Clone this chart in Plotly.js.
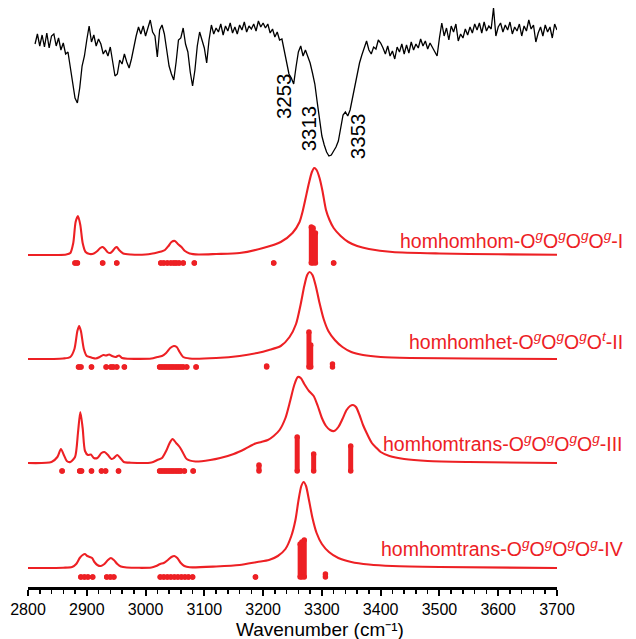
<!DOCTYPE html>
<html><head><meta charset="utf-8">
<script src="https://cdn.plot.ly/plotly-3.0.1.min.js"></script>
<style>html,body{margin:0;padding:0;background:#fff}</style>
</head><body><div id="chart" style="width:636px;height:639px"></div>
<script>
// ---------- DATA ----------
// experimental spectrum: transmittance (arb. units), sampled from 2812 cm-1 every 4 cm-1
const expStart = 2812, expStep = 4;
const expT = [
 116,126,114,125,113,127,112,124,
 126,114,122,110,117,106,108,93,78,62,
 57,72,94,104,120,134,118,125,114,121,
 116,106,110,104,113,98,84,86,100,96,
 106,98,92,101,114,124,133,126,134,124,
 132,140,128,124,103,130,135,126,110,94,
 86,80,98,120,122,132,116,108,88,74,
 90,114,128,120,112,97,120,135,126,132,
 128,136,125,134,129,137,127,133,126,135,
 130,138,128,134,131,136,129,139,133,137,
 132,136,127,131,123,128,120,121,109,100,
 86,82,76,93,108,114,104,110,103,97,
 87,76,58,38,24,15,8,4,5,9,
 13,19,31,45,48,44,50,62,76,88,
 97,105,112,119,110,106,113,111,120,117,
 112,106,114,104,109,101,113,108,116,106,
 115,107,118,110,116,112,121,114,119,111,
 117,113,109,104,122,137,124,132,120,134,
 128,136,119,126,122,131,125,133,127,136,
 130,137,127,138,129,134,131,152,124,133,
 137,128,135,130,138,126,133,129,136,124,
 134,129,140,131,135,118,127,133,124,135,
 128,133,122,136,130
];
const expPeakLabels = ['3253', '3313', '3353'];

// simulated spectra (wavenumber, intensity)
const simI_w = [2800,2850,2865,2872,2877,2881,2885,2889,2893,2898,2905,2912,2918,2923,2927,2931,2935,2940,2944,2948,2951,2955,2962,2975,3000,3012,3020,3027,3033,3039,3044,3050,3055,3061,3067,3075,3090,3120,3160,3200,3230,3250,3262,3267,3272,3278,3283,3287,3291,3296,3301,3307,3313,3320,3332,3345,3360,3380,3420,3500,3600,3700];
const simI_h = [0,0,0.5,2,12,33,39,30,12,3,1,1.5,4,7,8,6,3,2,4,7,8,5,1.5,0.5,0.5,1.5,2.5,3.5,5,9,13,14,11,8,4,1.5,0.5,1,2,7,13,22,33,43,56,72,83,87,85,77,64,45,35,27,19,13,9,6,3,1.5,0.7,0.3];

const simII_w = [2800,2860,2872,2879,2884,2887,2890,2895,2900,2905,2910,2915,2922,2928,2933,2938,2943,2949,2955,2960,2970,3010,3020,3028,3035,3042,3048,3053,3058,3064,3075,3120,3160,3190,3210,3230,3245,3256,3264,3270,3275,3279,3284,3290,3296,3303,3311,3322,3335,3350,3370,3400,3450,3550,3700];
const simII_h = [0,0.5,2,10,28,33,28,10,3,2,1,0.5,2,4,3.5,4.5,3,2,3.5,1,0.3,0.5,2,3,6,11,13,12,7,2,0.5,1,3,6,9,13,22,35,55,73,84,87,84,72,56,40,28,19,12,7,4,2,1,0.5,0];

const simIII_w = [2800,2840,2850,2856,2861,2866,2872,2880,2885,2889,2893,2897,2902,2907,2912,2918,2925,2930,2936,2942,2946,2952,2957,2963,2975,3010,3020,3028,3035,3041,3046,3052,3058,3063,3070,3085,3110,3127,3150,3169,3185,3197,3208,3218,3228,3238,3246,3253,3259,3264,3270,3278,3286,3293,3300,3307,3314,3321,3328,3335,3342,3348,3353,3358,3364,3370,3377,3385,3393,3400,3415,3440,3480,3550,3700];
const simIII_h = [0,1,6,14,8,2,1,6,30,51,35,12,8,8.5,5,5,10,11,8,4,5,8,5,1,0.3,0.5,3,5,12,20,24,20,16,11,4,1.5,3,5,9,14,19,21,23,27,33,45,62,78,86,85,79,72,67,57,45,37,33,32,36,44,53,57,58,56,48,38,29,20,15,11,7,4,2,1,0];

const simIV_w = [2800,2860,2875,2882,2888,2893,2897,2901,2905,2909,2913,2918,2924,2930,2936,2941,2946,2952,2958,2968,3010,3018,3025,3031,3038,3044,3049,3054,3060,3066,3075,3120,3160,3190,3210,3225,3238,3248,3255,3260,3265,3269,3273,3278,3284,3291,3300,3312,3328,3350,3380,3420,3500,3700];
const simIV_h = [0,0.3,1,4,10,13,14,12,11,10,6,3,2,4,8,10,8,4,1.5,0.5,0.5,2,4,5,8,11,12,10,5,2,0.7,1.5,3,6,8,12,19,32,48,67,82,86,82,68,50,35,24,16,10,6,3.5,2,1,0];

// calculated stick spectra (wavenumber, intensity)
const stickI_w = [2880,2884,2927,2951,3026,3031,3037,3043,3048,3052,3057,3064,3083,3218,3282,3285,3289,3320];
const stickI_h = [0,0,0,0,0,0,0,0,0,0,0,0,0,0,36,35,30,0];
const stickII_w = [2886,2890,2908,2933,2941,2945,2951,2964,3024,3028,3032,3036,3040,3044,3048,3052,3056,3060,3064,3070,3086,3206,3278,3281,3318];
const stickII_h = [0,0,0,0,0,0,0,0,0,0,0,0,0,0,0,0,0,0,0,0,0,1,35,22,3];
const stickIII_w = [2858,2888,2891,2908,2925,2932,2954,3024,3028,3032,3036,3040,3044,3048,3052,3056,3060,3066,3081,3193,3258,3286,3349];
const stickIII_h = [0,0,0,0,0,0,0,0,0,0,0,0,0,0,0,0,0,0,0,6,34,17,25];
const stickIV_w = [2890,2896,2902,2910,2934,2940,2946,3025,3031,3037,3043,3049,3055,3061,3067,3073,3080,3187,3263,3266,3270,3306];
const stickIV_h = [0,0,0,0,0,0,0,0,0,0,0,0,0,0,0,0,0,0,33,35,37,3];

const conformerNames = ['homhomhom', 'homhomhet', 'homhomtrans', 'homhomtrans'];
const conformerLabels = ['gggg', 'gggt', 'gggg', 'gggg'];
const conformerIds = ['I', 'II', 'III', 'IV'];
const xTitle = 'Wavenumber (cm⁻¹)';

// ---------- LAYOUT CONSTANTS ----------
const RED = '#ED2024';
const expOffset = 427;
const baseOffsets = [332, 228, 124, 19];
const stickOffsets = [324, 220, 116, 10];
const labelY = [347, 246, 144, 39];

const sims = [[simI_w, simI_h], [simII_w, simII_h], [simIII_w, simIII_h], [simIV_w, simIV_h]];
const sticks = [[stickI_w, stickI_h], [stickII_w, stickII_h], [stickIII_w, stickIII_h], [stickIV_w, stickIV_h]];

const traces = [];
traces.push({
  type: 'scatter', mode: 'lines', x0: expStart, dx: expStep,
  y: expT.map(v => v + expOffset),
  line: {color: '#000', width: 1.3}, hoverinfo: 'skip'
});
sims.forEach(([w, h], i) => {
  traces.push({
    type: 'scatter', mode: 'lines', x: w, y: h.map(v => v + baseOffsets[i]),
    line: {color: RED, width: 2.1, shape: 'spline', smoothing: 0.7}, hoverinfo: 'skip'
  });
});
sticks.forEach(([w, h], i) => {
  const xs = [], ys = [];
  w.forEach((wv, j) => { xs.push(wv, wv, null); ys.push(stickOffsets[i], stickOffsets[i] + h[j], null); });
  traces.push({
    type: 'scatter', mode: 'lines+markers', x: xs, y: ys, connectgaps: false,
    line: {color: RED, width: 5}, marker: {color: RED, size: 5.5}, hoverinfo: 'skip'
  });
});

const annotations = [];
const expLabelPos = [[3234, 491], [3277, 459], [3360, 451]];
expPeakLabels.forEach((t, i) => {
  annotations.push({x: expLabelPos[i][0], y: expLabelPos[i][1], xref: 'x', yref: 'y', text: t,
    textangle: -90, showarrow: false, font: {size: 20.5, color: '#000'}});
});
conformerNames.forEach((n, i) => {
  const sup = conformerLabels[i].split('').map(c => 'O<sup><i>' + c + '</i></sup>').join('');
  annotations.push({x: 1.129, y: labelY[i], xref: 'paper', yref: 'y', xanchor: 'right',
    text: n + '-' + sup + '-' + conformerIds[i], showarrow: false,
    font: {size: 19.5, color: RED}});
});
annotations.push({x: 0.552, y: -0.0925, xref: 'paper', yref: 'paper', text: xTitle,
  showarrow: false, yanchor: 'bottom', borderpad: 0, font: {size: 19, color: '#000'}});

const layout = {
  width: 636, height: 639,
  margin: {l: 28, r: 79, t: 5, b: 52},
  paper_bgcolor: '#fff', plot_bgcolor: '#fff',
  font: {family: 'Arial, "Liberation Sans", sans-serif', color: '#000'},
  showlegend: false,
  xaxis: {
    range: [2800, 3700], dtick: 100, tick0: 2800, ticks: 'outside', ticklen: 6, tickwidth: 2,
    tickcolor: '#000', showline: true, linewidth: 2.5, linecolor: '#000',
    showgrid: false, zeroline: false, tickfont: {size: 16},
    minor: {dtick: 20, ticks: 'outside', ticklen: 4, tickwidth: 1.5, tickcolor: '#000', showgrid: false}
  },
  yaxis: {range: [0, 582], visible: false, fixedrange: true},
  annotations: annotations
};

Plotly.newPlot('chart', traces, layout, {staticPlot: true, displayModeBar: false});
</script></body></html>
